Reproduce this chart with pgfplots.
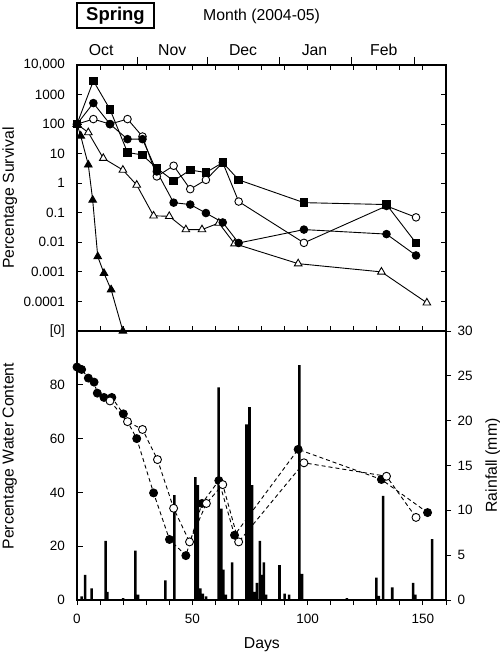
\documentclass[border=0pt]{standalone}
\usepackage{fontspec}
\setmainfont{Liberation Sans}
\usepackage{pgfplots}
\pgfplotsset{compat=1.18}
\pgfplotsset{
  common/.style={scale only axis, width=369pt, xmin=0, xmax=160,
    anchor=south west,
    /pgf/number format/assume math mode=true,
    tick style={black, line width=0.9pt},
    axis line style={line width=1.1pt},
    ticklabel style={font=\fontsize{13.5}{16}\selectfont},
    label style={font=\fontsize{15.8}{19}\selectfont}},
  surv/.style={black, line width=0.9pt},
  wc/.style={black, line width=0.9pt, dash pattern=on 4pt off 3pt}
}
\begin{document}
\begin{tikzpicture}
\path[use as bounding box] (-77pt,-54pt) rectangle (423pt,600pt);

% ---------------- upper panel: survival ----------------
\begin{axis}[common, at={(0pt,269pt)}, height=266pt,
  ymode=log, ymin=1e-5, ymax=1e4, clip=false,
  xtick={0,10,...,160}, xticklabels={},
  tick align=inside, major tick length=5pt, yminorticks=false,
  ytick={1e-5,1e-4,1e-3,1e-2,1e-1,1,10,100,1000,10000},
  yticklabels={{[0]},0.0001,0.001,0.01,0.1,1,10,100,1000,{10,000}},
  yticklabel style={xshift=-8.5pt},
  ylabel={Percentage Survival},
  ylabel style={at={(axis description cs:-0.182,0.5)}, anchor=center}]
\addplot[surv, mark=triangle*, mark size=4.4pt, mark options={solid, line width=0.9pt, fill=white}] coordinates {
 (0,100) (4.9,52) (11.4,7) (19.9,2.8) (25.9,0.87) (33.2,0.079) (40,0.076)
 (47.2,0.027) (54.2,0.027) (61.5,0.045) (68.3,0.009) (95.9,0.0019)
 (132,0.001) (151.7,0.00009)};
\addplot[surv, mark=triangle*, mark size=4.4pt, mark options={solid, line width=0.9pt, fill=black}] coordinates {
 (0,100) (1.6,40) (4.9,4.2) (6.8,0.27) (9.0,0.0033) (11.7,0.0009)
 (14.8,0.00025) (19.9,0.00001)};
\addplot[surv, mark=*, mark size=3.8pt, mark options={solid, line width=0.9pt, fill=white}] coordinates {
 (0,100) (7.1,148) (14.3,100) (21.9,148) (28.4,38) (34.6,1.7) (41.9,3.9)
 (49.1,0.63) (55.9,1.3) (63.2,5) (70.1,0.24) (98.4,0.0096) (134.2,0.17)
 (147,0.07)};
\addplot[surv, mark=*, mark size=3.8pt, mark options={solid, line width=0.9pt, fill=black}] coordinates {
 (0,100) (7.1,515) (14.3,100) (21.9,31) (28.4,31) (34.6,2.5) (41.9,0.22)
 (49.1,0.19) (55.9,0.098) (63.2,0.047) (70.1,0.0095) (98.4,0.027)
 (134.2,0.019) (147,0.0036)};
\addplot[surv, mark=square*, mark size=3.8pt, mark options={solid, line width=0.9pt, fill=black}] coordinates {
 (0,100) (7.1,2900) (14.3,316) (21.9,11) (28.4,9) (34.6,3.2) (41.9,1.2)
 (49.1,2.8) (55.9,2.3) (63.2,5) (70.1,1.3) (98.4,0.22) (134.2,0.19)
 (147,0.0095)};
\end{axis}

% ---------------- month axis on top ----------------
\begin{axis}[common, at={(0pt,269pt)}, height=266pt,
  ymin=0, ymax=1, hide y axis, axis x line*=top,
  xtick={10.5,41.3,72,103,133}, xticklabels={Oct,Nov,Dec,Jan,Feb},
  major tick length=0pt,
  minor xtick={26,56.5,87.6,119,146.5}, minor tick length=8pt,
  tick align=outside,
  xticklabel style={font=\fontsize{15.8}{19}\selectfont, yshift=6pt}]
\end{axis}

% ---------------- lower panel: rainfall bars ----------------
\begin{axis}[common, at={(0pt,0pt)}, height=269pt,
  ymin=0, ymax=30, axis y line*=right, axis x line*=bottom,
  tick align=outside, major tick length=5pt,
  xtick={0,10,...,160},
  xticklabels={0,,,,,50,,,,,100,,,,,150,},
  xticklabel style={yshift=-6pt},
  ytick={0,5,...,30},
  yticklabel style={xshift=3pt},
  xlabel={Days},
  xlabel style={at={(axis description cs:0.501,-0.167)}, anchor=center},
  ylabel={Rainfall (mm)},
  ylabel style={at={(axis description cs:1.127,0.5)}, anchor=center}]
\addplot[ybar, bar width=1.1, bar shift=0pt, fill=black, draw=none] coordinates {
 (2.0,0.4) (3.5,2.8) (6.3,1.3) (12.4,6.6) (13.2,0.9) (20.0,0.2)
 (25.3,5.5) (26.5,0.6) (38.3,2.2) (42.2,11.7) (51.3,13.7) (52.4,12.8)
 (53.5,1.3) (54.6,0.7) (56.0,0.4) (61.4,23.7) (62.6,10.2) (63.5,3.4)
 (64.5,0.6) (67.3,4.2) (73.5,19.6) (74.8,21.5) (75.9,12.8) (76.9,0.9)
 (78.0,1.9) (79.3,6.6) (80.2,2.8) (81.0,4.2) (82.0,0.6) (87.8,3.9)
 (90.0,0.7) (92.0,0.6) (96.4,26.2) (97.6,2.9) (117.0,0.2) (129.8,2.5)
 (130.9,0.45) (132.7,11.6) (136.7,1.4) (145.7,1.9) (146.7,0.6) (154.0,6.8)};
\end{axis}

% ---------------- lower panel: water content ----------------
\begin{axis}[common, at={(0pt,0pt)}, height=269pt,
  ymin=0, ymax=100, clip=false,
  xtick=\empty, ytick={0,20,40,60,80}, ytick pos=left,
  tick align=inside, major tick length=6pt,
  yticklabel style={xshift=-8.5pt},
  ylabel={Percentage Water Content},
  ylabel style={at={(axis description cs:-0.182,0.535)}, anchor=center}]
\addplot[wc, mark=*, mark size=4pt, mark options={solid, line width=0.9pt, fill=black}] coordinates {
 (0,86.6) (2,85.7) (4.9,82.5) (7.4,81) (8.8,76.9) (11.7,75.3) (15.1,75.3)
 (20.1,69.2) (25.9,60) (33.2,39.8) (40.1,22.5) (47.2,16.5) (54.2,35.9)
 (61.5,44.4) (68.3,24.1) (95.9,56) (132,44.8) (152,32.5)};
\addplot[wc, mark=*, mark size=4pt, mark options={solid, line width=0.9pt, fill=white}] coordinates {
 (14.3,74) (21.9,66.3) (28.4,63.4) (34.9,52.2) (41.9,34.1) (48.8,21.6)
 (56.1,35.9) (63.2,42.9) (70.1,21.6) (98.4,51) (134.2,46) (147,30.7)};
\end{axis}

% ---------------- titles ----------------
\node[draw, line width=1.1pt, minimum width=77pt, minimum height=25pt, inner sep=0pt,
  font=\bfseries\fontsize{18.5}{20}\selectfont] at (38.5pt,584.5pt) {Spring};
\node[font=\fontsize{15.8}{19}\selectfont] at (184.5pt,584pt) {Month (2004-05)};
\end{tikzpicture}
\end{document}
